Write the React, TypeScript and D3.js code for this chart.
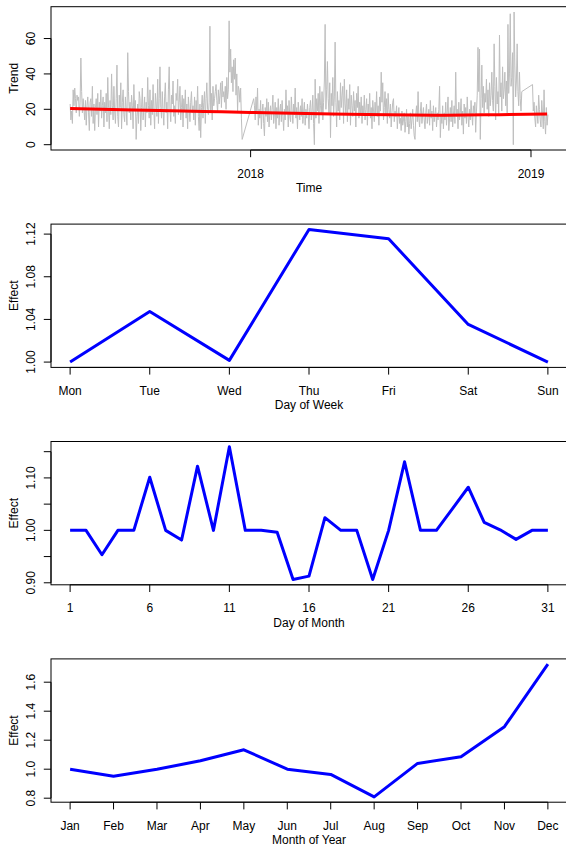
import React from 'react';
import * as d3 from 'd3';

// ---------- data ----------
const seriesStart = '2017-05-11';
const N = null;
// daily observed values (null = no observation that day)
const dailyValues: (number | null)[] = [
  23, 14, 19, 12, 31, 22, 32, 26, 18, 28, 25, 27, 16, 24, 49, 30, 18, 26, 20, 14,
  25, 11, 22, 27, 18, 8, 24, 26, 16, 33, 12, 23, 8, 21, 26, 17, 29, 10, 24, 19,
  31, 15, 22, 27, 10, 24, 18, 29, 13, 38, 21, 9, 25, 17, 40, 22, 14, 33, 19, 12,
  26, 45, 16, 10, 28, 21, 35, 9, 24, 31, 17, 13, 27, 20, 11, 52, 30, 18, 24, 14,
  28, 22, 9, 34, 19, 25, 3, 16, 23, 12, 30, 26, 8, 21, 32, 14, 20, 27, 10, 24,
  18, 38, 22, 15, 31, 11, 25, 17, 34, 20, 9, 29, 23, 16, 37, 12, 26, 44, 21, 15,
  30, 19, 11, 27, 35, 18, 24, 9, 31, 44, 20, 13, 28, 23, 36, 16, 22, 12, 29, 25,
  37, 17, 24, 33, 14, 21, 28, 10, 26, 19, 31, 15, 23, 9, 27, 20, 13, 24, 30, 18,
  22, 14, 27, 11, 25, 19, 33, 16, 8, 23, 4, 21, 28, 15, 24, 30, 12, 26, 35, 20,
  17, 24, 67, 19, 29, 14, 33, 22, 26, 30, 34, 25, 18, 31, 23, 28, 35, 21, 36, 27,
  30, 24, 33, 20, 38, 26, 31, 70, 41, 54, 35, 44, 30, 48, 37, 49, 28, 40, 19, 33,
  31, 24, 32, 15, 3, N, N, N, N, N, N, N, N, N, N, N, N, N, N, 26,
  22, 14, 27, 18, 32, 11, 20, 15, 25, 9, 19, 23, 12, 5, 21, 16, 26, 13, 24, 10,
  18, 22, 14, 20, 28, 12, 17, 24, 9, 21, 15, 26, 11, 19, 23, 13, 25, 16, 8, 20,
  14, 31, 18, 22, 10, 25, 16, 13, 27, 19, 12, 23, 17, 32, 15, 21, 9, 24, 18, 14,
  22, 16, 26, 12, 19, 24, 11, 20, 15, 23, 17, 9, 21, 25, 14, 19, 28, 12, 0, 37,
  15, 26, 19, 29, 12, 33, 22, 17, 30, 14, 24, 36, 68, 20, 31, 47, 26, 18, 35, 4,
  29, 22, 38, 16, 27, 58, 24, 10, 30, 19, 25, 14, 35, 21, 28, 33, 12, 37, 23, 18,
  31, 13, 26, 20, 34, 11, 28, 22, 16, 30, 19, 25, 10, 29, 21, 33, 15, 24, 18, 27,
  12, 22, 17, 28, 14, 20, 26, 11, 23, 18, 29, 15, 21, 9, 25, 19, 13, 24, 17, 30,
  16, 22, 11, 27, 19, 41, 24, 35, 14, 21, 30, 17, 26, 12, 29, 20, 15, 23, 10, 18,
  24, 26, 13, 19, 16, 22, 9, 17, 21, 12, 15, 8, 19, 11, 14, 18, 7, 13, 20, 10,
  16, 6, 12, 18, 9, 14, 20, 11, 5, 3, 17, 22, 13, 30, 15, 10, 19, 24, 12, 17,
  21, 14, 9, 18, 23, 12, 16, 20, 11, 25, 15, 19, 8, 22, 13, 17, 21, 10, 18, 14,
  20, 33, 4, 16, 12, 22, 9, 18, 14, 24, 11, 19, 27, 8, 15, 21, 13, 25, 10, 17,
  22, 12, 41, 16, 20, 9, 24, 14, 18, 26, 11, 19, 6, 23, 15, 21, 12, 27, 16, 10,
  20, 14, 25, 17, 11, 22, 18, 24, 7, 19, 28, 55, 30, 54, 3, 26, 45, 21, 33, 18,
  29, 24, 37, 20, 31, 16, 35, 22, 28, 41, 25, 19, 57, 33, 14, 38, 23, 30, 17, 62,
  27, 35, 19, 44, 26, 31, 41, 22, 36, 18, 68, 29, 40, 74, 33, 38, 52, 0, 75, 45,
  27, 36, 57, 30, 22, 41, 26, 19, 30, N, N, N, N, N, N, N, N, N, N, N,
  N, N, 34, 19, 24, 15, 10, 22, 17, 12, 28, 20, 14, 10, 25, 18, 9, 31, 13, 6,
  21, 11, 17,
];

const trendDates = ['2017-05-11', '2017-08-01', '2017-11-01', '2018-01-01', '2018-04-01', '2018-06-01', '2018-09-01', '2018-11-01', '2019-01-22'];
const trendValues = [20.5, 19.6, 18.8, 18.2, 17.5, 17.0, 16.7, 16.9, 17.3];
const timeTickDates = ['2018-01-01', '2019-01-01'];
const timeTickLabels = ['2018', '2019'];
const trendYTicks = [0, 20, 40, 60];

const weekdays = ['Mon', 'Tue', 'Wed', 'Thu', 'Fri', 'Sat', 'Sun'];
const weekdayEffect = [1.0, 1.0475, 1.0016, 1.1244, 1.1156, 1.0353, 1.0];
const weekdayYTicks = [1.0, 1.04, 1.08, 1.12];
const weekdayYLabels = ['1.00', '1.04', '1.08', '1.12'];

const monthDayEffect = [
  1.0, 1.0, 0.9535, 1.0, 1.0, 1.1013, 1.0, 0.9815, 1.1224, 1.0,
  1.1593, 1.0, 1.0, 0.9962, 0.9063, 0.9127, 1.0242, 1.0, 1.0, 0.9063,
  1.0, 1.1307, 1.0, 1.0, 1.0408, 1.0822, 1.0153, 1.001, 0.9828, 1.0, 1.0,
];
const monthDayXTicks = [1, 6, 11, 16, 21, 26, 31];
const monthDayYTicks = [0.9, 0.95, 1.0, 1.05, 1.1, 1.15];
const monthDayYLabels = ['0.90', '', '1.00', '', '1.10', ''];

const months = ['Jan', 'Feb', 'Mar', 'Apr', 'May', 'Jun', 'Jul', 'Aug', 'Sep', 'Oct', 'Nov', 'Dec'];
const monthEffect = [1.0, 0.952, 1.0, 1.058, 1.134, 1.0, 0.964, 0.809, 1.04, 1.086, 1.293, 1.724];
const monthYTicks = [0.8, 1.0, 1.2, 1.4, 1.6];
const monthYLabels = ['0.8', '1.0', '1.2', '1.4', '1.6'];

// ---------- layout ----------
const W = 566;
const H = 848;
const FONT = '"Liberation Sans", Arial, Helvetica, sans-serif';
const LEFT = 51;
const RIGHT = 567;
const PANEL_H = 143.3;
const PANEL_TOPS = [6.7, 224.1, 441.5, 658.9];
const TICK = 7.2;

const parse = (s: string) => new Date(s + 'T00:00:00Z');

// R-style axis range: data extent widened by 4% on each side
function padded(lo: number, hi: number): [number, number] {
  const p = (hi - lo) * 0.04;
  return [lo - p, hi + p];
}

type Tick = { pos: number; label: string };

function Frame(props: {
  top: number;
  xTicks: Tick[];
  yTicks: Tick[];
  xTitle: string;
  yTitle: string;
  children: React.ReactNode;
}) {
  const { top, xTicks, yTicks, xTitle, yTitle, children } = props;
  const bottom = top + PANEL_H;
  const midX = (LEFT + RIGHT) / 2;
  return (
    <g>
      {children}
      <rect x={LEFT} y={top} width={RIGHT - LEFT} height={PANEL_H} fill="none" stroke="#000" strokeWidth={1} />
      {/* x axis */}
      <line x1={xTicks[0].pos} x2={xTicks[xTicks.length - 1].pos} y1={bottom} y2={bottom} stroke="#000" />
      {xTicks.map((t, i) => (
        <g key={'x' + i}>
          <line x1={t.pos} x2={t.pos} y1={bottom} y2={bottom + TICK} stroke="#000" />
          <text x={t.pos} y={bottom + 23.5} textAnchor="middle" dominantBaseline="central" fontSize={12} fontFamily={FONT}>
            {t.label}
          </text>
        </g>
      ))}
      {/* y axis */}
      <line x1={LEFT} x2={LEFT} y1={yTicks[0].pos} y2={yTicks[yTicks.length - 1].pos} stroke="#000" />
      {yTicks.map((t, i) => (
        <g key={'y' + i}>
          <line x1={LEFT - TICK} x2={LEFT} y1={t.pos} y2={t.pos} stroke="#000" />
          {t.label && (
            <text
              transform={`translate(30.7,${t.pos}) rotate(-90)`}
              textAnchor="middle"
              dominantBaseline="central"
              fontSize={12}
              fontFamily={FONT}
            >
              {t.label}
            </text>
          )}
        </g>
      ))}
      <text x={midX} y={bottom + 38} textAnchor="middle" dominantBaseline="central" fontSize={12} fontFamily={FONT}>
        {xTitle}
      </text>
      <text
        transform={`translate(14,${top + PANEL_H / 2}) rotate(-90)`}
        textAnchor="middle"
        dominantBaseline="central"
        fontSize={12}
        fontFamily={FONT}
      >
        {yTitle}
      </text>
    </g>
  );
}

function TrendPanel() {
  const top = PANEL_TOPS[0];
  const start = parse(seriesStart);
  const pts = dailyValues
    .map((v, i) => ({ date: d3.utcDay.offset(start, i), v }))
    .filter((d) => d.v !== null) as { date: Date; v: number }[];
  const t0 = +start;
  const t1 = +d3.utcDay.offset(start, dailyValues.length - 1);
  const [xa, xb] = padded(t0, t1);
  const x = d3.scaleUtc().domain([new Date(xa), new Date(xb)]).range([LEFT, RIGHT]);
  const ext = d3.extent(pts, (d) => d.v) as [number, number];
  const y = d3.scaleLinear().domain(padded(ext[0], ext[1])).range([top + PANEL_H, top]);
  const line = d3
    .line<{ date: Date; v: number }>()
    .x((d) => x(d.date))
    .y((d) => y(d.v));
  const trendPts = trendDates.map((s, i) => ({ date: parse(s), v: trendValues[i] }));
  const trendLine = d3
    .line<{ date: Date; v: number }>()
    .x((d) => x(d.date))
    .y((d) => y(d.v))
    .curve(d3.curveMonotoneX);
  return (
    <Frame
      top={top}
      xTicks={timeTickDates.map((s, i) => ({ pos: x(parse(s)), label: timeTickLabels[i] }))}
      yTicks={trendYTicks.map((v) => ({ pos: y(v), label: String(v) }))}
      xTitle="Time"
      yTitle="Trend"
    >
      <path d={line(pts) || ''} fill="none" stroke="#BEBEBE" strokeWidth={1} strokeLinejoin="round" />
      <path d={trendLine(trendPts) || ''} fill="none" stroke="#FF0000" strokeWidth={3} />
    </Frame>
  );
}

function EffectPanel(props: {
  top: number;
  values: number[];
  xTicks: number[];
  xLabels: string[];
  yTicks: number[];
  yLabels: string[];
  xTitle: string;
}) {
  const { top, values, xTicks, xLabels, yTicks, yLabels, xTitle } = props;
  const n = values.length;
  const x = d3.scaleLinear().domain(padded(1, n)).range([LEFT, RIGHT]);
  const ext = d3.extent(values) as [number, number];
  const y = d3.scaleLinear().domain(padded(ext[0], ext[1])).range([top + PANEL_H, top]);
  const line = d3
    .line<number>()
    .x((_, i) => x(i + 1))
    .y((v) => y(v));
  return (
    <Frame
      top={top}
      xTicks={xTicks.map((k, i) => ({ pos: x(k), label: xLabels[i] }))}
      yTicks={yTicks.map((v, i) => ({ pos: y(v), label: yLabels[i] }))}
      xTitle={xTitle}
      yTitle="Effect"
    >
      <path d={line(values) || ''} fill="none" stroke="#0000FF" strokeWidth={3} strokeLinejoin="round" />
    </Frame>
  );
}

export default function App() {
  return (
    <svg
      width={W}
      height={H}
      viewBox={`0 0 ${W} ${H}`}
      style={{ position: 'absolute', left: 0, top: 0, background: '#fff' }}
    >
      <rect x={0} y={0} width={W} height={H} fill="#fff" />
      <TrendPanel />
      <EffectPanel
        top={PANEL_TOPS[1]}
        values={weekdayEffect}
        xTicks={weekdays.map((_, i) => i + 1)}
        xLabels={weekdays}
        yTicks={weekdayYTicks}
        yLabels={weekdayYLabels}
        xTitle="Day of Week"
      />
      <EffectPanel
        top={PANEL_TOPS[2]}
        values={monthDayEffect}
        xTicks={monthDayXTicks}
        xLabels={monthDayXTicks.map(String)}
        yTicks={monthDayYTicks}
        yLabels={monthDayYLabels}
        xTitle="Day of Month"
      />
      <EffectPanel
        top={PANEL_TOPS[3]}
        values={monthEffect}
        xTicks={months.map((_, i) => i + 1)}
        xLabels={months}
        yTicks={monthYTicks}
        yLabels={monthYLabels}
        xTitle="Month of Year"
      />
    </svg>
  );
}
